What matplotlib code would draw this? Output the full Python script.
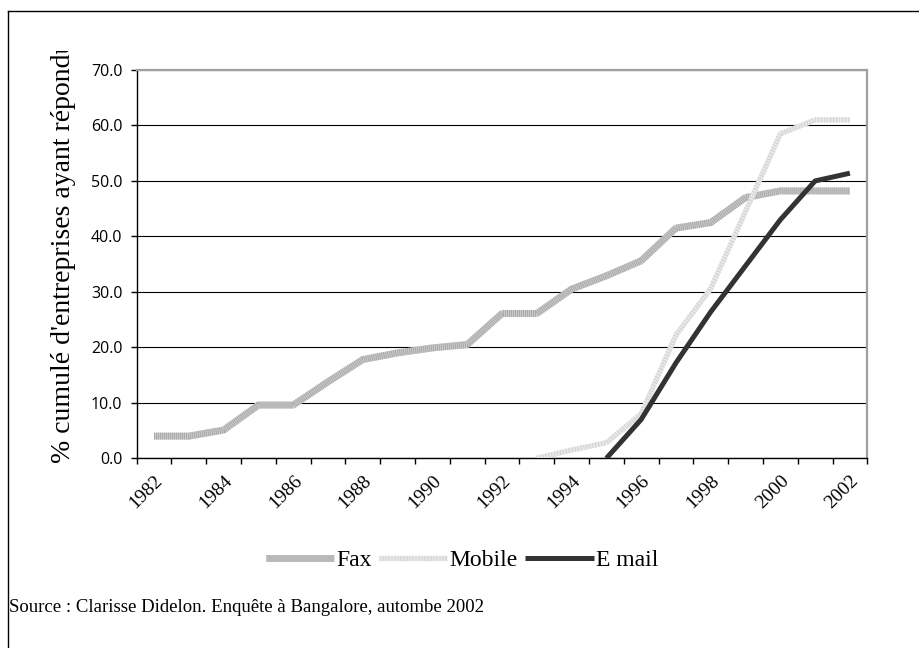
import numpy as np
import matplotlib
matplotlib.use("Agg")
import matplotlib.pyplot as plt
from matplotlib.lines import Line2D
from matplotlib.transforms import Bbox, TransformedBbox

# ---- data ----
years = list(range(1982, 2003))
year_labels = [str(y) if (y - 1982) % 2 == 0 else "" for y in years]
nan = np.nan
fax = [4.0, 4.0, 5.1, 9.6, 9.6, 13.8, 17.8, 19.0, 19.9, 20.5, 26.1,
       26.1, 30.5, 32.9, 35.6, 41.5, 42.5, 47.0, 48.2, 48.2, 48.2]
mobile = [nan, nan, nan, nan, nan, nan, nan, nan, nan, nan, nan,
          0.0, 1.5, 2.8, 8.0, 22.2, 30.6, 44.5, 58.5, 61.0, 61.0]
email = [nan, nan, nan, nan, nan, nan, nan, nan, nan, nan, nan,
         nan, nan, 0.0, 7.0, 17.2, 26.4, 34.7, 43.0, 50.0, 51.4]
series_names = ["Fax", "Mobile", "E mail"]
yticks = [0, 10, 20, 30, 40, 50, 60, 70]
ylabel = "% cumulé d'entreprises ayant répondu"
source = "Source : Clarisse Didelon. Enquête à Bangalore, autombe 2002"

plt.rcParams['lines.scale_dashes'] = False
SERIF = ['Liberation Serif', 'DejaVu Serif']
SANS = ['Open Sans', 'DejaVu Sans']

W, H = 920, 648
fig = plt.figure(figsize=(W / 100, H / 100), dpi=100)
fig.patch.set_facecolor('white')

# plot area in pixel coords
x0, x1, yt, yb = 136.7, 867.3, 70.0, 458.3
ax = fig.add_axes([x0 / W, 1 - yb / H, (x1 - x0) / W, (yb - yt) / H])

x = np.arange(len(years))

# Fax: textured mid-grey
fax_base, = ax.plot(x, fax, color='#cbcbcb', lw=5.0, solid_capstyle='butt',
                    solid_joinstyle='round', zorder=3)
fax_tex, = ax.plot(x, fax, color='#a9a9a9', lw=5.0, dashes=(0.72, 0.72),
                   dash_capstyle='butt', zorder=3.1)
# Mobile: light speckled grey
mob_base, = ax.plot(x, mobile, color='#e8e8e8', lw=3.8, solid_capstyle='butt',
                    solid_joinstyle='round', zorder=4)
mob_tex, = ax.plot(x, mobile, color='#d2d2d2', lw=3.8, dashes=(0.72, 1.44),
                   dash_capstyle='butt', zorder=4.1)
# E mail: dark solid
em_line, = ax.plot(x, email, color='#333333', lw=3.6, solid_capstyle='butt',
                   solid_joinstyle='round', zorder=5)

ax.set_xlim(-0.5, len(years) - 0.5)
ax.set_ylim(0, 70)
ax.set_yticks(yticks)
ax.set_yticklabels([f"{v:.1f}" for v in yticks], fontfamily=SANS, fontsize=11.5)
ax.yaxis.grid(True, color='black', lw=0.8)
ax.set_axisbelow(True)

ax.set_xticks(x)
ax.set_xticklabels(year_labels, fontfamily=SERIF, fontsize=14)
ax.set_xticks(np.arange(len(years) + 1) - 0.5, minor=True)
ax.tick_params(axis='x', which='major', length=0, pad=10)
ax.tick_params(axis='x', which='minor', length=4.3, width=1.0, direction='out', color='black')
ax.tick_params(axis='y', which='major', length=4.3, width=1.0, direction='out', pad=6, color='black')
plt.setp(ax.get_xticklabels(), rotation=45, ha='right', rotation_mode='anchor')

for s in ['left', 'bottom']:
    ax.spines[s].set_color('black')
    ax.spines[s].set_linewidth(1.0)
for s in ['top', 'right']:
    ax.spines[s].set_color('#a0a0a0')
    ax.spines[s].set_linewidth(1.6)

# y label (clipped at the top like the original)
t = fig.text(64 / W, 1 - 463 / H, ylabel, rotation=90, ha='center', va='bottom',
             fontfamily=SERIF, fontsize=20)
t.set_clip_box(TransformedBbox(Bbox([[0, 0], [1, 1 - 51 / H]]), fig.transFigure))
t.set_clip_on(True)

# legend
leg = fig.legend([(fax_base, fax_tex), (mob_base, mob_tex), em_line], series_names,
                 loc='center', bbox_to_anchor=(462 / W, 1 - 560 / H), ncol=3,
                 frameon=False, prop={'family': SERIF, 'size': 17},
                 handlelength=2.9, handletextpad=0.1, columnspacing=0.3)

# source
fig.text(9 / W, 1 - 608 / H, source, ha='left', va='center', fontfamily=SERIF, fontsize=13.5)

# outer frame (top and left edges)
fig.add_artist(Line2D([8 / W, 1.0], [1 - 11 / H, 1 - 11 / H], color='black', lw=1.0,
                      transform=fig.transFigure))
fig.add_artist(Line2D([8 / W, 8 / W], [1 - 11 / H, 0.0], color='black', lw=1.0,
                      transform=fig.transFigure))

fig.savefig('out.png', dpi=100)
